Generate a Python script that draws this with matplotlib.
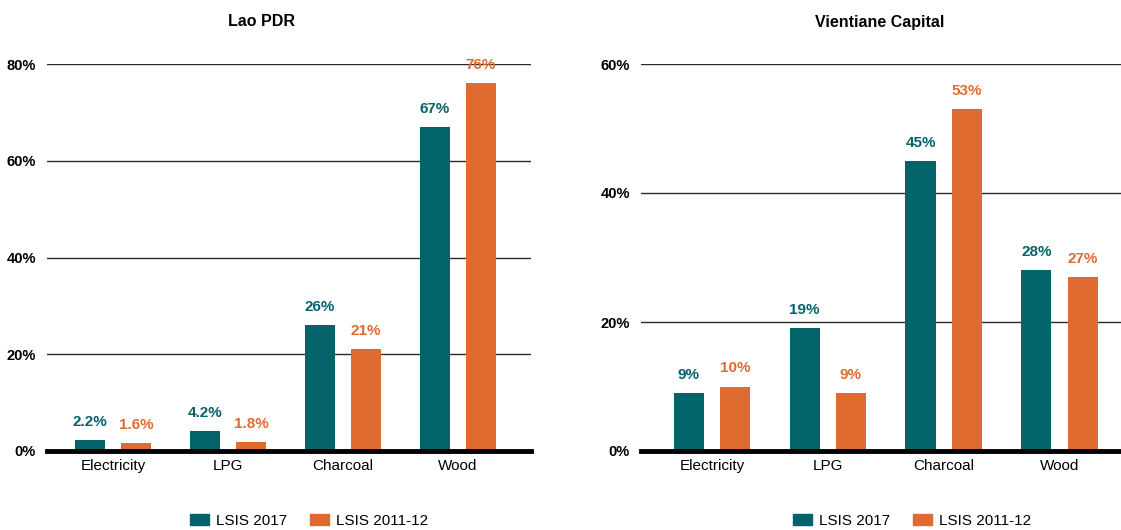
import matplotlib
matplotlib.use("Agg")
import matplotlib.pyplot as plt
from matplotlib.patches import Patch
import numpy as np

plt.rcParams['font.family'] = ['Liberation Sans', 'DejaVu Sans']

categories = ["Electricity", "LPG", "Charcoal", "Wood"]
series_names = ["LSIS 2017", "LSIS 2011-12"]

lao_2017 = [2.2, 4.2, 26, 67]
lao_2011 = [1.6, 1.8, 21, 76]
lao_labels_2017 = ["2.2%", "4.2%", "26%", "67%"]
lao_labels_2011 = ["1.6%", "1.8%", "21%", "76%"]

vte_2017 = [9, 19, 45, 28]
vte_2011 = [10, 9, 53, 27]
vte_labels_2017 = ["9%", "19%", "45%", "28%"]
vte_labels_2011 = ["10%", "9%", "53%", "27%"]

lao_ticks = [0, 20, 40, 60, 80]
vte_ticks = [0, 20, 40, 60]

TEAL = "#02636A"
ORANGE = "#E06B30"

W, H = 1121, 530
fig = plt.figure(figsize=(W / 100, H / 100), dpi=100)


def px_axes(x0, x1, y0, y1):
    return fig.add_axes([x0 / W, 1 - y1 / H, (x1 - x0) / W, (y1 - y0) / H])


def draw_panel(ax, title, v1, v2, l1, l2, ticks, xlim, title_x):
    x = np.arange(len(categories))
    off = 0.2
    bw = 0.26
    ax.bar(x - off, v1, bw, color=TEAL, zorder=3)
    ax.bar(x + off, v2, bw, color=ORANGE, zorder=3)
    for xi, v, lab in zip(x - off, v1, l1):
        ax.annotate(lab, (xi, v), xytext=(0, 8), textcoords="offset points",
                    ha="center", va="bottom", color=TEAL, fontsize=11,
                    fontweight="bold")
    for xi, v, lab in zip(x + off, v2, l2):
        ax.annotate(lab, (xi, v), xytext=(0, 8), textcoords="offset points",
                    ha="center", va="bottom", color=ORANGE, fontsize=11,
                    fontweight="bold")
    ax.set_xlim(*xlim)
    ax.set_ylim(0, ticks[-1])
    ax.set_yticks(ticks)
    ax.set_yticklabels([f"{t}%" for t in ticks], fontsize=10.5, fontweight="bold")
    ax.set_xticks(x)
    ax.set_xticklabels(categories, fontsize=11)
    for s in ["top", "right", "left"]:
        ax.spines[s].set_visible(False)
    ax.spines["bottom"].set_linewidth(3.5)
    ax.spines["bottom"].set_color("black")
    ax.spines["bottom"].set_zorder(4)
    ax.tick_params(axis="both", length=0)
    ax.tick_params(axis="y", pad=8)
    ax.tick_params(axis="x", pad=6)
    for t in ticks[1:]:
        ax.axhline(t, color="#2a2a2a", lw=1, zorder=1)
    fig.text(title_x / W, 1 - 22 / H, title, ha="center", va="center",
             fontsize=11.5, fontweight="bold")


ax1 = px_axes(47, 531, 64, 451)
draw_panel(ax1, "Lao PDR", lao_2017, lao_2011, lao_labels_2017, lao_labels_2011,
           lao_ticks, (-0.574, 3.635), 262)

ax2 = px_axes(641, 1121, 64, 451)
draw_panel(ax2, "Vientiane Capital", vte_2017, vte_2011, vte_labels_2017,
           vte_labels_2011, vte_ticks, (-0.612, 3.53), 880)

handles = [Patch(color=TEAL, label=series_names[0]),
           Patch(color=ORANGE, label=series_names[1])]
for cx in (309, 912):
    fig.legend(handles=handles, loc="center", bbox_to_anchor=(cx / W, 1 - 521 / H),
               ncol=2, frameon=False, fontsize=11, handlelength=1.3,
               handleheight=0.75, columnspacing=1.45, handletextpad=0.45)

fig.savefig("out.png", dpi=100)
